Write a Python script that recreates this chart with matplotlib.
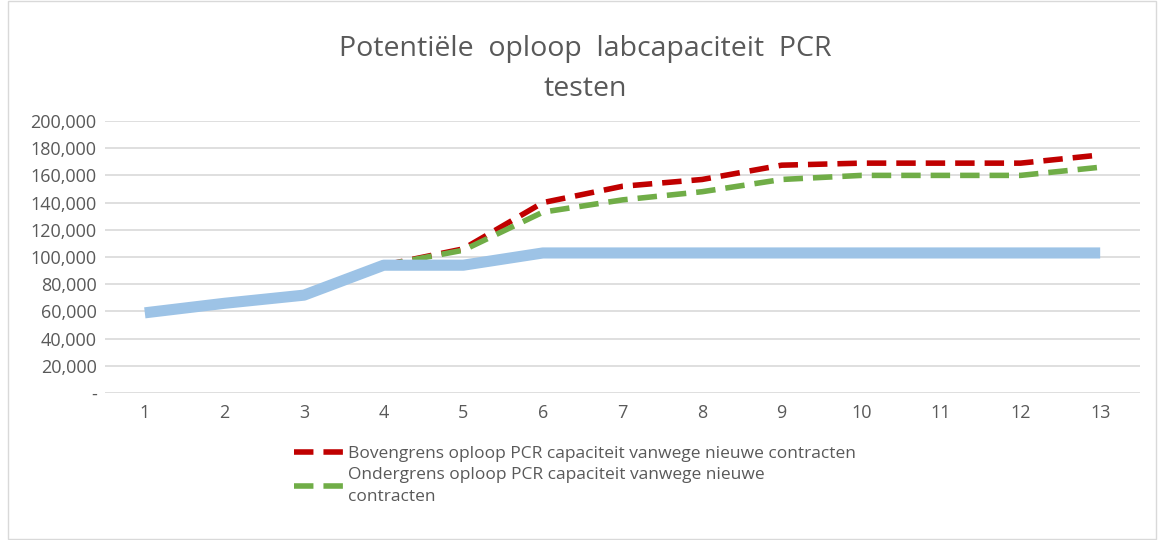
import matplotlib.pyplot as plt
import matplotlib.patches as patches
from matplotlib.ticker import FuncFormatter

plt.rcParams['font.family'] = ['Open Sans', 'DejaVu Sans']

weeks = list(range(1, 14))
basis = [59000, 66000, 72000, 94000, 94000, 103000, 103000, 103000, 103000, 103000, 103000, 103000, 103000]
boven_weeks = list(range(4, 14))
boven = [94000, 106000, 140000, 152000, 157000, 167500, 169000, 169000, 169000, 175000]
onder = [94000, 105000, 133000, 142000, 148000, 157000, 160000, 160000, 160000, 166000]
labels = ['Bovengrens oploop PCR capaciteit vanwege nieuwe contracten',
          'Ondergrens oploop PCR capaciteit vanwege nieuwe\ncontracten']

grey = '#595959'

fig = plt.figure(figsize=(11.59, 5.4), dpi=100)
ax = fig.add_axes([0.0906, 0.272, 0.893, 0.504])

# light frame around the chart
fig.patches.append(patches.Rectangle((0.007, 0.002), 0.99, 0.996, transform=fig.transFigure,
                                     fill=False, edgecolor='#d9d9d9', linewidth=1))

l1, = ax.plot(boven_weeks, onder, color='#70AD47', linewidth=4, dashes=(3.5, 1.8), zorder=3)
l0, = ax.plot(boven_weeks, boven, color='#C00000', linewidth=4, dashes=(3.5, 1.8), zorder=2)
ax.plot(weeks, basis, color='#9DC3E6', linewidth=8, solid_capstyle='butt', zorder=4)

ax.set_xlim(0.5, 13.5)
ax.set_ylim(0, 200000)
ax.set_xticks(weeks)
ax.set_yticks(range(0, 200001, 20000))
ax.yaxis.set_major_formatter(FuncFormatter(lambda v, p: '-' if v == 0 else f'{int(v):,}'))
ax.grid(axis='y', color='#d9d9d9', linewidth=1.2)
ax.set_axisbelow(True)
for s in ax.spines.values():
    s.set_visible(False)
ax.tick_params(length=0, labelsize=13, labelcolor=grey, pad=8)
ax.tick_params(axis='y', pad=6)

fig.text(0.505, 0.91, 'Potentiële  oploop  labcapaciteit  PCR', ha='center', va='center',
         fontsize=20.5, color=grey)
fig.text(0.505, 0.836, 'testen', ha='center', va='center', fontsize=20.5, color=grey)

leg = fig.legend([l0, l1], labels, loc='upper left', bbox_to_anchor=(0.246, 0.19), frameon=False,
                 fontsize=12.5, labelcolor=grey, handlelength=3.0, handletextpad=0.1,
                 labelspacing=0.25, borderpad=0)
for t in leg.get_texts():
    t.set_linespacing(1.55)

fig.savefig('out.png', dpi=100, facecolor='white')
